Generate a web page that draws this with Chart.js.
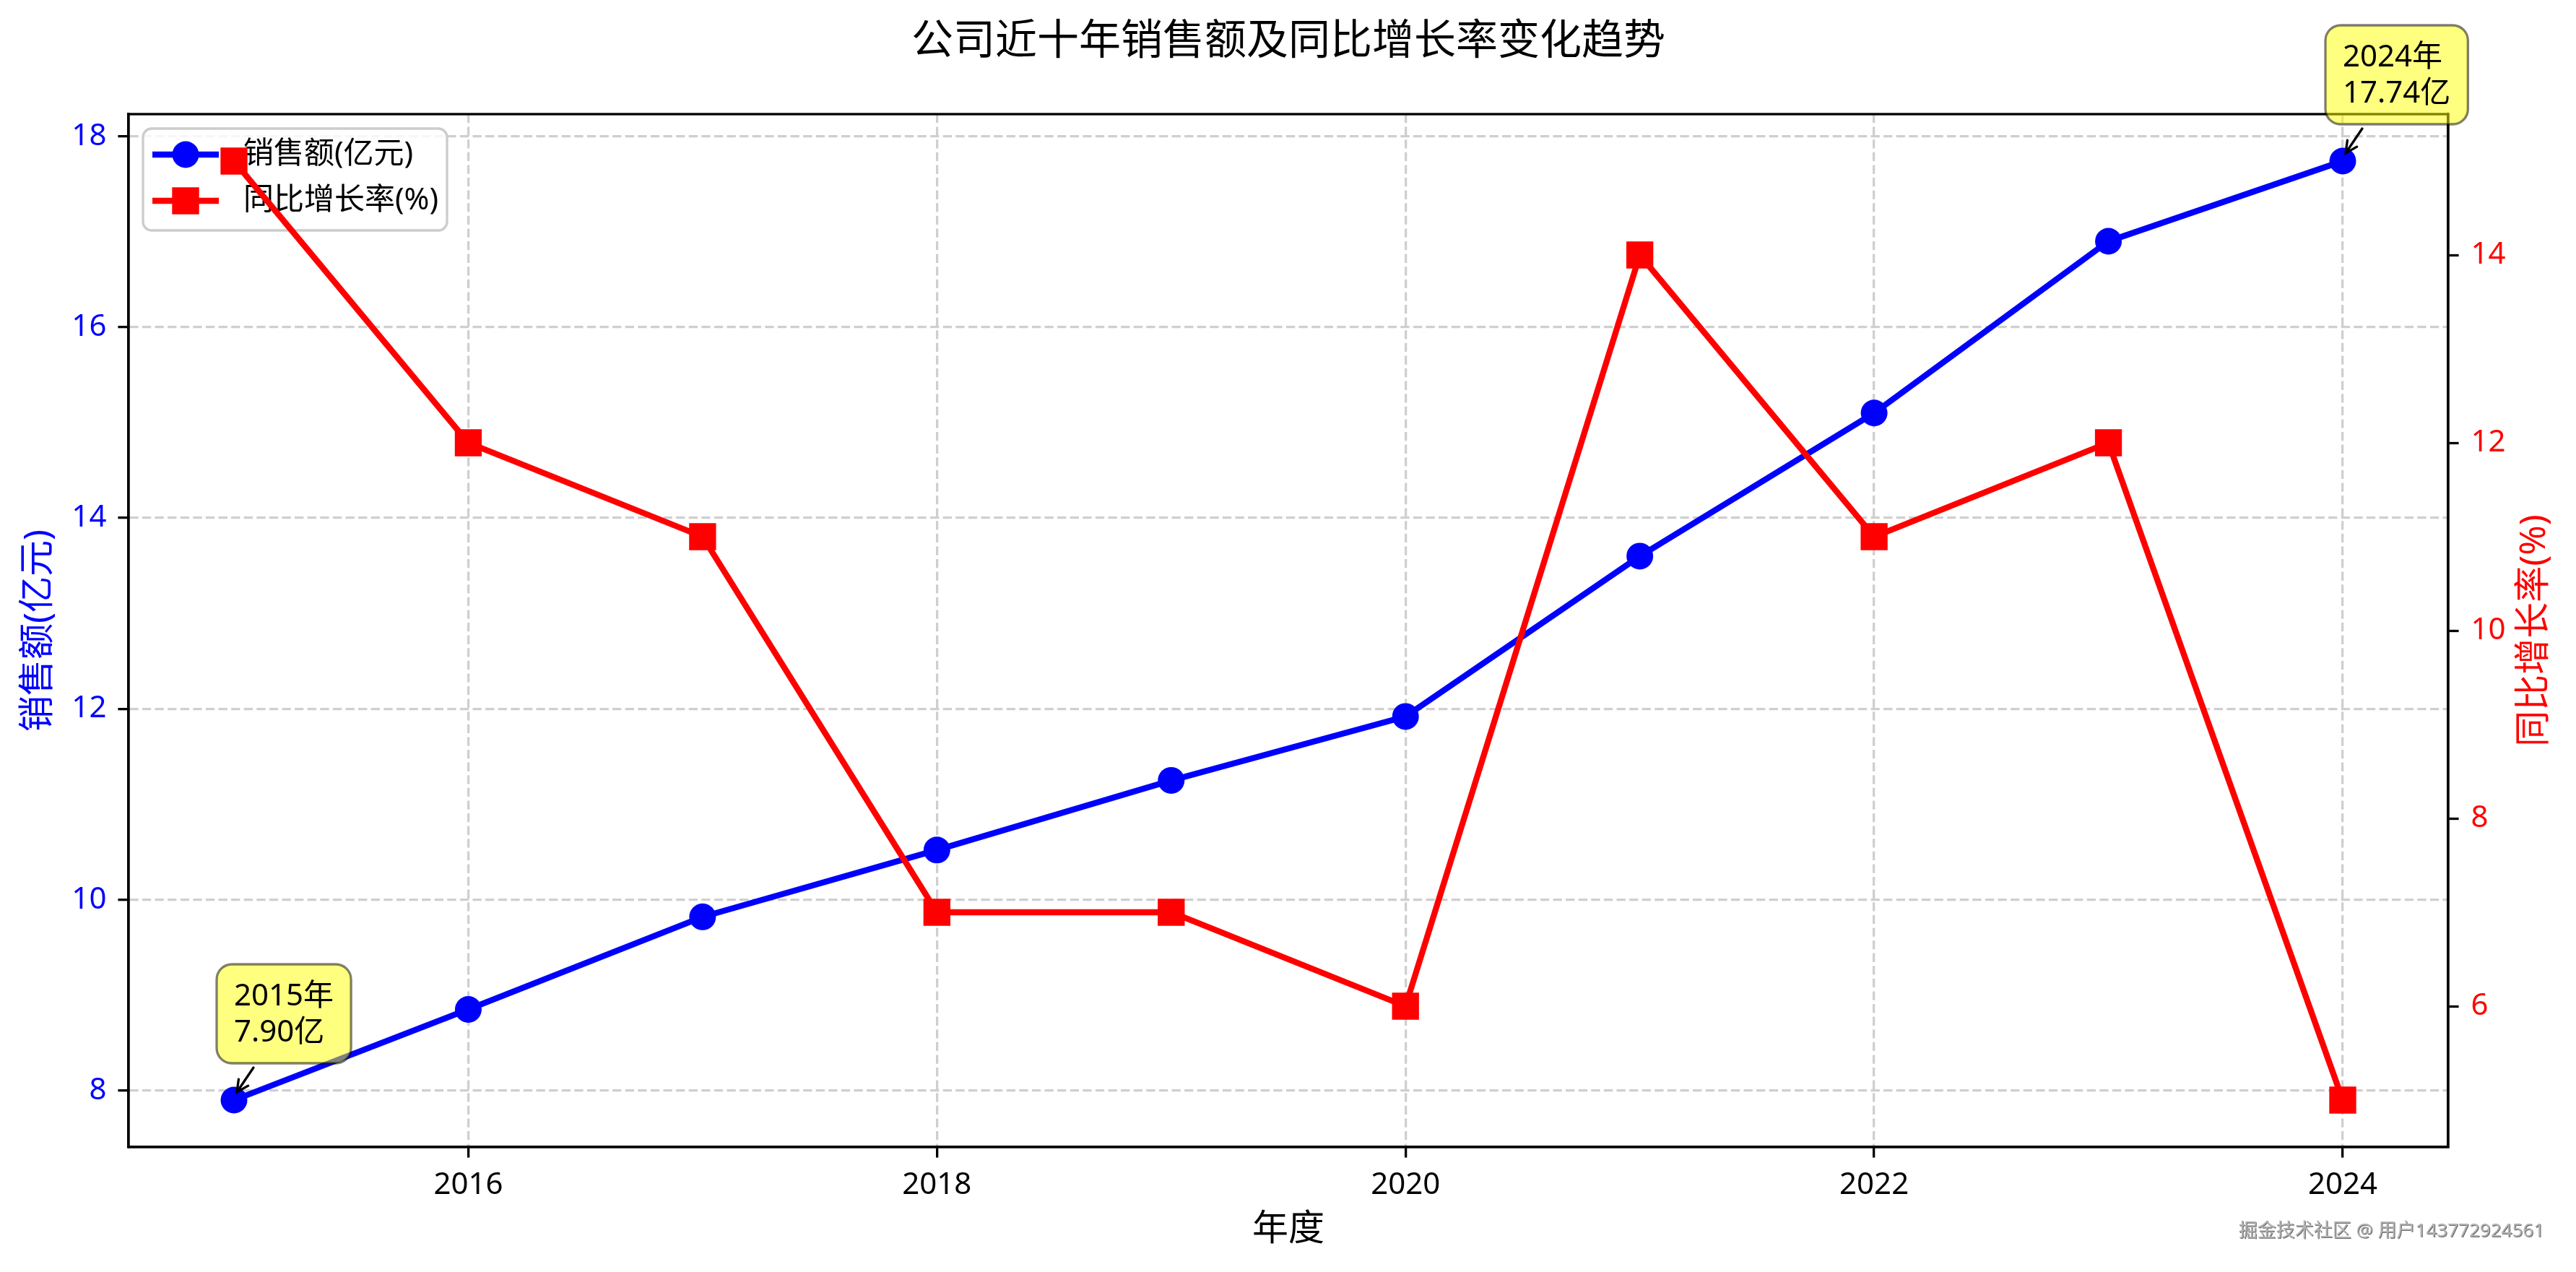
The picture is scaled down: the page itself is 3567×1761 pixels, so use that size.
<!DOCTYPE html>
<html>
<head>
<meta charset="utf-8">
<script src="https://cdn.jsdelivr.net/npm/chart.js@4.4.1/dist/chart.umd.min.js"></script>
<style>
  html, body { margin: 0; padding: 0; background: #fff; }
  canvas { display: block; }
</style>
</head>
<body>
<canvas id="myChart" width="3567" height="1761"></canvas>
<script>
// 数据
const years = [2015, 2016, 2017, 2018, 2019, 2020, 2021, 2022, 2023, 2024];
const sales = [7.90, 8.85, 9.82, 10.52, 11.25, 11.92, 13.60, 15.10, 16.90, 17.74];
const growth = [15, 12, 11, 7, 7, 6, 14, 11, 12, 5];

const xTicks = [2016, 2018, 2020, 2022, 2024];
const salesTicks = [8, 10, 12, 14, 16, 18];
const growthTicks = [6, 8, 10, 12, 14];

const titleText = '公司近十年销售额及同比增长率变化趋势';
const xTitle = '年度';
const salesLabel = '销售额(亿元)';
const growthLabel = '同比增长率(%)';
const watermark = '掘金技术社区 @ 用户143772924561';

const FONT = "'Noto Sans', 'Noto Sans CJK SC', sans-serif";
const BLUE = '#0000ff';
const RED = '#ff0000';
const GRID = '#cfcfcf';

function padRange(arr) {
    const lo = Math.min(...arr), hi = Math.max(...arr), p = (hi - lo) * 0.05;
    return [lo - p, hi + p];
}
const xRange = padRange(years);
const yRange = padRange(sales);
const y1Range = padRange(growth);

function setTicks(list) {
    return function(scale) { scale.ticks = list.map(v => ({ value: v })); };
}

function roundRect(ctx, x, y, w, h, r) {
    ctx.beginPath();
    ctx.moveTo(x + r, y);
    ctx.arcTo(x + w, y, x + w, y + h, r);
    ctx.arcTo(x + w, y + h, x, y + h, r);
    ctx.arcTo(x, y + h, x, y, r);
    ctx.arcTo(x, y, x + w, y, r);
    ctx.closePath();
}

function drawMarker(ctx, style, x, y, color) {
    ctx.fillStyle = color;
    if (style === 'circle') {
        ctx.beginPath();
        ctx.arc(x, y, 18.5, 0, Math.PI * 2);
        ctx.fill();
    } else {
        ctx.fillRect(x - 18.7, y - 18.7, 37.4, 37.4);
    }
}

// 图例（画在数据线下面）
const legendPlugin = {
    id: 'boxLegend',
    beforeDatasetsDraw(chart) {
        const ctx = chart.ctx;
        const lx = 198, ly = 178, lw = 421, lh = 141;
        ctx.save();
        roundRect(ctx, lx, ly, lw, lh, 12);
        ctx.fillStyle = 'rgba(255,255,255,0.8)';
        ctx.fill();
        ctx.lineWidth = 3.3;
        ctx.strokeStyle = '#cccccc';
        ctx.stroke();
        const items = [chart.data.datasets[1], chart.data.datasets[0]];
        items.forEach((ds, i) => {
            const cy = ly + 36 + i * 64;
            ctx.strokeStyle = ds.borderColor;
            ctx.lineWidth = 8.3;
            ctx.beginPath();
            ctx.moveTo(lx + 13, cy);
            ctx.lineTo(lx + 105, cy);
            ctx.stroke();
            drawMarker(ctx, ds.pointStyle, lx + 59, cy, ds.borderColor);
            ctx.fillStyle = '#000';
            ctx.font = '42px ' + FONT;
            ctx.textAlign = 'left';
            ctx.textBaseline = 'middle';
            ctx.fillText(ds.label, lx + 139, cy);
        });
        ctx.restore();
    }
};

// 边框
const framePlugin = {
    id: 'frame',
    afterDatasetsDraw(chart) {
        const { ctx, chartArea: a } = chart;
        ctx.save();
        ctx.strokeStyle = '#000';
        ctx.lineWidth = 3.3;
        ctx.strokeRect(a.left, a.top, a.right - a.left, a.bottom - a.top);
        ctx.restore();
    }
};

// 标题、坐标轴标题、注释、水印
const textPlugin = {
    id: 'texts',
    afterDraw(chart) {
        const { ctx, chartArea: a } = chart;
        const cx = (a.left + a.right) / 2;
        const cy = (a.top + a.bottom) / 2;
        ctx.save();
        ctx.textAlign = 'center';
        ctx.textBaseline = 'middle';

        ctx.fillStyle = '#000';
        ctx.font = '58px ' + FONT;
        ctx.fillText(titleText, cx, 58);

        ctx.font = '50px ' + FONT;
        ctx.fillText(xTitle, cx, 1703);

        ctx.save();
        ctx.translate(54, cy);
        ctx.rotate(-Math.PI / 2);
        ctx.fillStyle = BLUE;
        ctx.fillText(salesLabel, 0, 0);
        ctx.restore();

        ctx.save();
        ctx.translate(3510, cy);
        ctx.rotate(-Math.PI / 2);
        ctx.fillStyle = RED;
        ctx.fillText(growthLabel, 0, 0);
        ctx.restore();

        // 首尾注释
        [0, years.length - 1].forEach(i => {
            const px = chart.scales.x.getPixelForValue(years[i]);
            const py = chart.scales.y.getPixelForValue(sales[i]);
            const l1 = years[i] + '年';
            const l2 = sales[i].toFixed(2) + '亿';
            ctx.font = '42px ' + FONT;
            const tw = Math.max(ctx.measureText(l1).width, ctx.measureText(l2).width);
            const bx = px - 24, by = py - 188, bw = tw + 48, bh = 137;
            roundRect(ctx, bx, by, bw, bh, 21);
            ctx.fillStyle = 'rgba(255,255,0,0.5)';
            ctx.fill();
            ctx.strokeStyle = 'rgba(0,0,0,0.5)';
            ctx.lineWidth = 3.3;
            ctx.stroke();
            ctx.fillStyle = '#000';
            ctx.textAlign = 'left';
            ctx.textBaseline = 'alphabetic';
            ctx.fillText(l1, px, by + 57);
            ctx.fillText(l2, px, by + 107);

            // 箭头
            const sx = px + 27, sy = py - 45, ex = px + 4, ey = py - 11;
            const ang = Math.atan2(ey - sy, ex - sx);
            ctx.strokeStyle = '#000';
            ctx.lineWidth = 3.3;
            ctx.lineCap = 'round';
            ctx.beginPath();
            ctx.moveTo(sx, sy);
            ctx.lineTo(ex, ey);
            ctx.moveTo(ex - 18 * Math.cos(ang - 0.46), ey - 18 * Math.sin(ang - 0.46));
            ctx.lineTo(ex, ey);
            ctx.lineTo(ex - 18 * Math.cos(ang + 0.46), ey - 18 * Math.sin(ang + 0.46));
            ctx.stroke();
        });

        // 水印
        ctx.font = '26px ' + FONT;
        ctx.textAlign = 'right';
        ctx.textBaseline = 'middle';
        ctx.fillStyle = '#666';
        ctx.fillText(watermark, 3524, 1706);
        ctx.fillStyle = '#b4b4b4';
        ctx.fillText(watermark, 3523, 1705);
        ctx.restore();
    }
};

const ctx = document.getElementById('myChart').getContext('2d');
new Chart(ctx, {
    type: 'line',
    data: {
        datasets: [
            {
                label: growthLabel,
                data: years.map((y, i) => ({ x: y, y: growth[i] })),
                yAxisID: 'y1',
                borderColor: RED,
                backgroundColor: RED,
                borderWidth: 8.3,
                pointStyle: 'rect',
                pointRadius: 26.4,
                pointBorderWidth: 0,
                tension: 0,
                clip: false,
                order: 0
            },
            {
                label: salesLabel,
                data: years.map((y, i) => ({ x: y, y: sales[i] })),
                yAxisID: 'y',
                borderColor: BLUE,
                backgroundColor: BLUE,
                borderWidth: 8.3,
                pointStyle: 'circle',
                pointRadius: 18.5,
                pointBorderWidth: 0,
                tension: 0,
                clip: false,
                order: 1
            }
        ]
    },
    options: {
        responsive: false,
        animation: false,
        devicePixelRatio: 1,
        events: [],
        layout: { padding: { top: 158, left: 0, right: 0, bottom: 0 } },
        plugins: {
            legend: { display: false },
            title: { display: false },
            tooltip: { enabled: false }
        },
        scales: {
            x: {
                type: 'linear',
                min: xRange[0],
                max: xRange[1],
                afterBuildTicks: setTicks(xTicks),
                afterFit(scale) { scale.height = 173; },
                grid: {
                    color: GRID, lineWidth: 3.3,
                    tickColor: '#000', tickWidth: 3.3, tickLength: 14.6, tickBorderDash: []
                },
                border: { display: true, color: '#000', width: 3.3, dash: [12.3, 5.3] },
                ticks: {
                    color: '#000', font: { family: FONT, size: 42 }, padding: 13,
                    maxRotation: 0, autoSkip: false,
                    callback: v => String(v)
                }
            },
            y: {
                type: 'linear',
                position: 'left',
                min: yRange[0],
                max: yRange[1],
                afterBuildTicks: setTicks(salesTicks),
                afterFit(scale) { scale.width = 178; },
                grid: {
                    color: GRID, lineWidth: 3.3,
                    tickColor: '#000', tickWidth: 3.3, tickLength: 14.6, tickBorderDash: []
                },
                border: { display: true, color: '#000', width: 3.3, dash: [12.3, 5.3] },
                ticks: {
                    color: BLUE, font: { family: FONT, size: 42 }, padding: 16,
                    autoSkip: false,
                    callback: v => String(v)
                }
            },
            y1: {
                type: 'linear',
                position: 'right',
                min: y1Range[0],
                max: y1Range[1],
                afterBuildTicks: setTicks(growthTicks),
                afterFit(scale) { scale.width = 177; },
                grid: {
                    drawOnChartArea: false,
                    tickColor: '#000', tickWidth: 3.3, tickLength: 14.6
                },
                border: { display: true, color: '#000', width: 3.3 },
                ticks: {
                    color: RED, font: { family: FONT, size: 42 }, padding: 17,
                    autoSkip: false,
                    callback: v => String(v)
                }
            }
        }
    },
    plugins: [legendPlugin, framePlugin, textPlugin]
});
</script>
</body>
</html>
